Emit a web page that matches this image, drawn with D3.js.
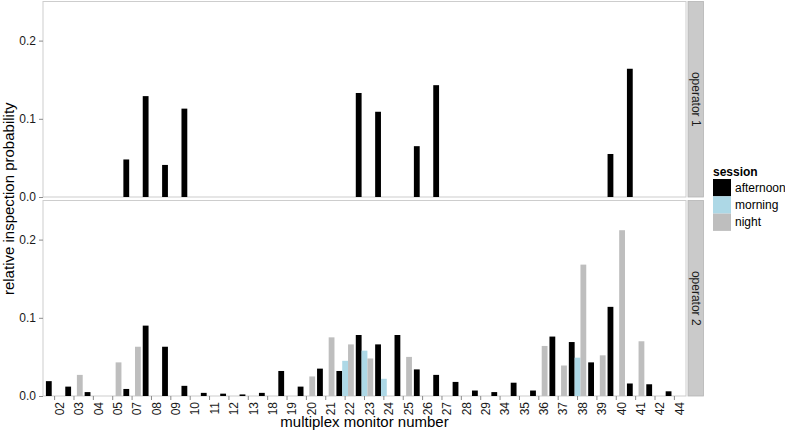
<!DOCTYPE html>
<html><head><meta charset="utf-8">
<script src="https://cdn.jsdelivr.net/npm/d3@7"></script>
<style>
html,body{margin:0;padding:0;background:#fff;}
svg{display:block;font-family:"Liberation Sans",Arial,Helvetica,sans-serif;}
</style></head>
<body>
<svg id="chart" width="785" height="432"></svg>
<script>
// ---- data ----
const monitors = ["02","03","04","05","07","08","09","10","11","12","13","18","19","20","21","22","23","24","25","26","27","28","29","34","35","36","37","38","39","40","41","42","44"];
const sessions = ["afternoon","morning","night"];
const sessionColors = ["#000000","#add8e6","#bebebe"];
const operators = ["operator 1","operator 2"];
const yTicks = [0, 0.1, 0.2];

const op1Afternoon = [0,0,0,0,0.048,0.129,0.041,0.113,0,0,0,0,0,0,0,0,0.133,0.109,0,0.065,0.143,0,0,0,0,0,0,0,0,0.055,0.164,0,0];
const op1Morning   = [0,0,0,0,0,0,0,0,0,0,0,0,0,0,0,0,0,0,0,0,0,0,0,0,0,0,0,0,0,0,0,0,0];
const op1Night     = [0,0,0,0,0,0,0,0,0,0,0,0,0,0,0,0,0,0,0,0,0,0,0,0,0,0,0,0,0,0,0,0,0];

const op2Afternoon = [0.019,0.012,0.005,0,0.009,0.090,0.063,0.013,0.004,0.003,0.002,0.004,0.032,0.012,0.035,0.032,0.078,0.066,0.078,0.034,0.027,0.018,0.007,0.005,0.017,0.007,0.076,0.069,0.043,0.114,0.016,0.015,0.006];
const op2Morning   = [0,0,0,0,0,0,0,0,0,0,0,0,0,0,0,0.045,0.058,0.022,0,0,0,0,0,0,0,0,0,0.049,0,0,0,0,0];
const op2Night     = [0,0.027,0,0.043,0.063,0,0,0,0,0,0,0,0,0.025,0.075,0.066,0.048,0,0.050,0,0,0,0,0,0,0.064,0.039,0.168,0.052,0.212,0.070,0,0];

const panelData = [
  [op1Afternoon, op1Morning, op1Night],
  [op2Afternoon, op2Morning, op2Night]
];

// ---- layout ----
const svg = d3.select("#chart");
const L = 43, R = 686;
const panels = [{top:1.5, bottom:197},{top:200.5, bottom:396}];
const stripX = 688, stripW = 15.5;

const x = d3.scaleBand().domain(monitors).range([L, R]).paddingInner(0).paddingOuter(0.1);
const step = x.step();
const x1 = d3.scaleBand().domain(sessions).range([0.05*step, 0.95*step]).padding(0);
const color = d3.scaleOrdinal().domain(sessions).range(sessionColors);

panels.forEach((p, pi) => {
  const y = d3.scaleLinear().domain([0, 0.25]).range([p.bottom, p.top]);
  const g = svg.append("g");
  g.append("rect").attr("x", L).attr("y", p.top).attr("width", R-L).attr("height", p.bottom-p.top)
    .attr("fill","#fff").attr("stroke","#cdcdcd").attr("stroke-width",1);

  const rows = [];
  panelData[pi].forEach((arr, si) => arr.forEach((v, ci) => rows.push({m:monitors[ci], s:sessions[si], v})));
  g.selectAll("rect.bar").data(rows.filter(d => d.v > 0)).join("rect").attr("class","bar")
    .attr("x", d => x(d.m) + x1(d.s))
    .attr("width", x1.bandwidth())
    .attr("y", d => y(d.v))
    .attr("height", d => y(0) - y(d.v))
    .attr("fill", d => color(d.s));

  const ya = g.append("g").attr("transform", `translate(${L},0)`)
    .call(d3.axisLeft(y).tickValues(yTicks).tickFormat(d3.format(".1f")).tickSize(4).tickPadding(3));
  ya.select(".domain").remove();
  ya.selectAll("line").attr("stroke","#8a8a8a");
  ya.selectAll("text").attr("font-size",12).attr("fill","#1a1a1a").attr("font-family","Liberation Sans, Arial, sans-serif");

  // strip
  g.append("rect").attr("x", stripX).attr("y", p.top).attr("width", stripW).attr("height", p.bottom-p.top)
    .attr("fill","#cacaca").attr("stroke","#b5b5b5").attr("stroke-width",0.8);
  g.append("text").attr("transform", `translate(${stripX+stripW/2},${(p.top+p.bottom)/2}) rotate(90)`)
    .attr("text-anchor","middle").attr("dominant-baseline","central")
    .attr("font-size",12).attr("fill","#1a1a1a").text(operators[pi]);

  if (pi === 1) {
    const xa = g.append("g").attr("transform", `translate(0,${p.bottom})`)
      .call(d3.axisBottom(x).tickSize(4).tickSizeOuter(0));
    xa.select(".domain").remove();
    xa.selectAll("line").attr("stroke","#8a8a8a");
    xa.selectAll("text")
      .attr("transform","translate(0.5,6) rotate(-90)")
      .attr("x",0).attr("y",0).attr("dy",null)
      .attr("text-anchor","end").attr("dominant-baseline","hanging")
      .attr("font-size",12).attr("fill","#1a1a1a").attr("font-family","Liberation Sans, Arial, sans-serif");
  }
});

// axis titles
svg.append("text").attr("x", (L+R)/2).attr("y", 427).attr("text-anchor","middle")
  .attr("font-size",15).attr("fill","#000").text("multiplex monitor number");
svg.append("text").attr("transform", `translate(13.5,${(1.5+396)/2}) rotate(-90)`).attr("text-anchor","middle")
  .attr("font-size",15).attr("fill","#000").text("relative inspection probability");

// legend
const lg = svg.append("g").attr("transform","translate(713,0)");
lg.append("text").attr("x",0).attr("y",176).attr("font-size",12).attr("font-weight","bold").attr("fill","#000").text("session");
sessions.forEach((s, i) => {
  const ky = 179 + i*17.3;
  lg.append("rect").attr("x",0).attr("y",ky).attr("width",18).attr("height",17.3).attr("fill",color(s));
  lg.append("text").attr("x",22).attr("y",ky+8.7).attr("dominant-baseline","central")
    .attr("font-size",12).attr("fill","#000").text(s);
});
</script>
</body></html>
